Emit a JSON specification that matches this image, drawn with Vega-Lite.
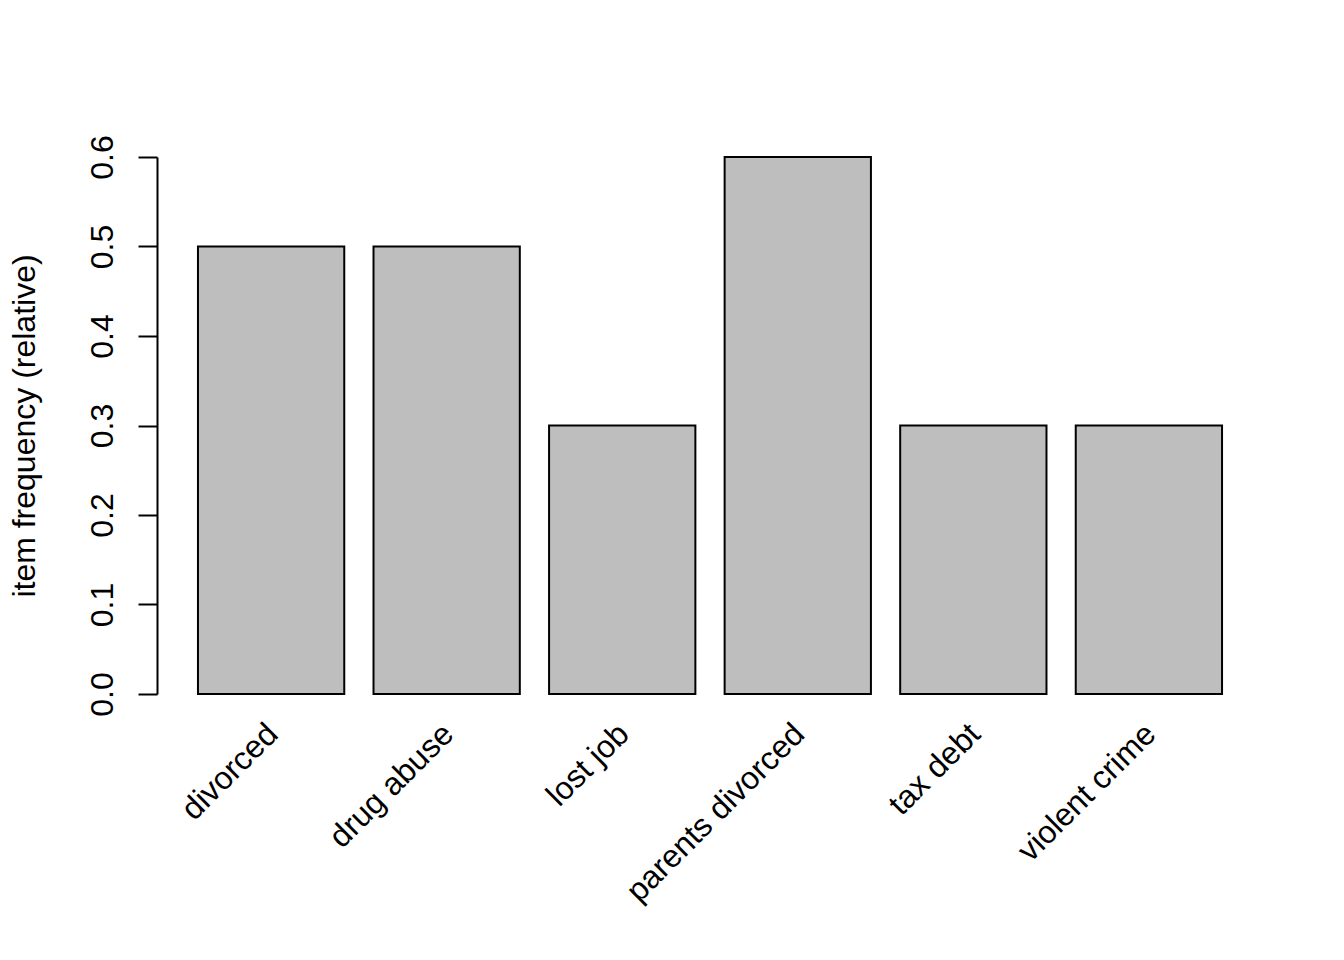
{
  "$schema": "https://vega.github.io/schema/vega-lite/v6.json",
  "width": 1106,
  "height": 537,
  "autosize": "none",
  "padding": {"left": 157, "top": 157, "right": 81, "bottom": 266},
  "background": "white",
  "config": {"view": {"stroke": null}, "font": "Liberation Sans"},
  "data": {
    "values": [
      {"item": "divorced", "freq": 0.5},
      {"item": "drug abuse", "freq": 0.5},
      {"item": "lost job", "freq": 0.3},
      {"item": "parents divorced", "freq": 0.6},
      {"item": "tax debt", "freq": 0.3},
      {"item": "violent crime", "freq": 0.3}
    ]
  },
  "mark": {"type": "bar", "fill": "#BEBEBE", "stroke": "black", "strokeWidth": 2},
  "encoding": {
    "x": {
      "field": "item",
      "type": "nominal",
      "sort": null,
      "scale": {"paddingInner": 0.16667, "paddingOuter": 0.23333},
      "axis": {
        "title": null,
        "domain": false,
        "ticks": false,
        "labelAngle": -45,
        "labelAlign": "right",
        "labelBaseline": "top",
        "labelPadding": 24,
        "labelOffset": -9,
        "labelFontSize": 32,
        "labelFont": "Liberation Sans",
        "labelColor": "black",
        "labelLimit": 0,
        "labelOverlap": false
      }
    },
    "y": {
      "field": "freq",
      "type": "quantitative",
      "scale": {"domain": [0, 0.6], "nice": false, "zero": true},
      "axis": {
        "title": "item frequency (relative)",
        "titleFontSize": 32,
        "titleFont": "Liberation Sans",
        "titleFontWeight": "normal",
        "titleColor": "black",
        "titlePadding": 45,
        "values": [0, 0.1, 0.2, 0.3, 0.4, 0.5, 0.6],
        "format": ".1f",
        "grid": false,
        "domainColor": "black",
        "domainWidth": 2,
        "tickColor": "black",
        "tickWidth": 2,
        "tickSize": 19,
        "labelAngle": -90,
        "labelAlign": "center",
        "labelBaseline": "alphabetic",
        "labelPadding": 26,
        "labelFontSize": 32,
        "labelFont": "Liberation Sans",
        "labelColor": "black"
      }
    }
  }
}
